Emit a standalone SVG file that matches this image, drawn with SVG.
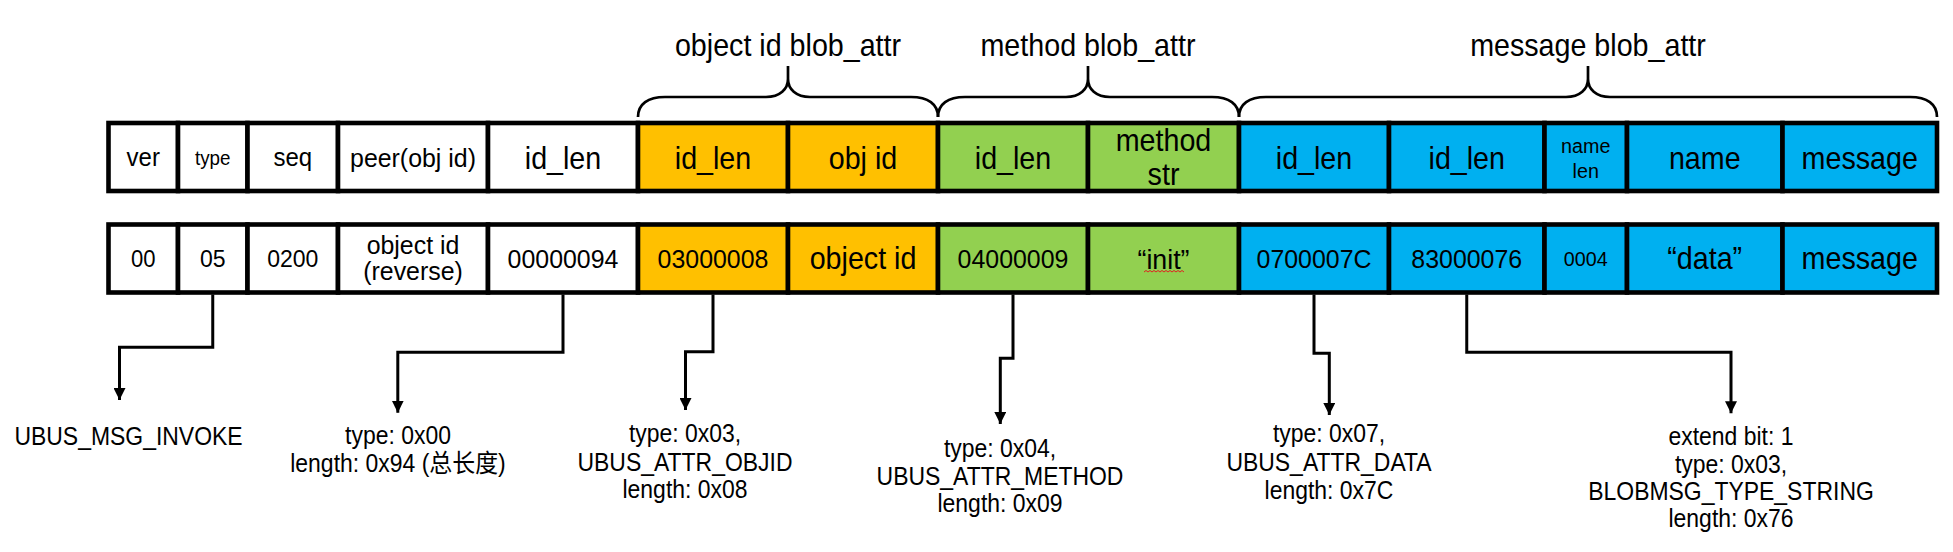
<svg xmlns="http://www.w3.org/2000/svg" width="1953" height="552" viewBox="0 0 1953 552">
<defs>
<style>
text{font-family:"Liberation Sans",Arial,"Noto Sans CJK SC",sans-serif;fill:#000;text-anchor:middle}
.c rect{stroke:#000;stroke-width:4.6}
.w{fill:#fff}.o{fill:#FFC000}.g{fill:#92D050}.b{fill:#00B0F0}
.f29{font-size:30.5px}.f25{font-size:26.5px}.f23{font-size:24.5px}.f20{font-size:21px}
.brace{fill:none;stroke:#000;stroke-width:2.7}
.conn{fill:none;stroke:#000;stroke-width:3;marker-end:url(#ah)}
.lbl{font-size:25.5px}
</style>
<marker id="ah" markerUnits="userSpaceOnUse" markerWidth="12" markerHeight="12" viewBox="0 0 12 12" refX="12" refY="6" orient="auto">
<path d="M0,0 L12,6 L0,12 z" fill="#000"/>
</marker>
</defs>
<rect width="1953" height="552" fill="#fff"/>

<g id="braces">
<path class="brace" d="M638,117 C638,104 648,97 665,97 H766 C780,97 788,89 788,79 V66 M788,79 C788,89 796,97 810,97 H911 C928,97 938,104 938,117"/>
<path class="brace" d="M938,117 C938,104 948,97 965,97 H1066 C1080,97 1088,89 1088,79 V66 M1088,79 C1088,89 1096,97 1110,97 H1212 C1229,97 1239,104 1239,117"/>
<path class="brace" d="M1239,117 C1239,104 1249,97 1266,97 H1566 C1580,97 1588,89 1588,79 V66 M1588,79 C1588,89 1596,97 1610,97 H1910 C1927,97 1937,104 1937,117"/>
<text class="f29" transform="translate(788 56) scale(.94 1)">object id blob_attr</text>
<text class="f29" transform="translate(1088 56) scale(.94 1)">method blob_attr</text>
<text class="f29" transform="translate(1588 56) scale(.94 1)">message blob_attr</text>
</g>

<g id="row1">
<g id="h-ver" class="c"><rect class="w" x="108.5" y="123" width="69.5" height="68"/><text transform="translate(143.25 166) scale(.94 1)" style="font-size:25.5px">ver</text></g>
<g id="h-type" class="c"><rect class="w" x="178" y="123" width="69.5" height="68"/><text transform="translate(212.75 164.5) scale(.94 1)" style="font-size:20px">type</text></g>
<g id="h-seq" class="c"><rect class="w" x="247.5" y="123" width="90.5" height="68"/><text transform="translate(292.75 166) scale(.94 1)" style="font-size:25.5px">seq</text></g>
<g id="h-peer" class="c"><rect class="w" x="338" y="123" width="150" height="68"/><text class="f25" transform="translate(413 167) scale(.94 1)">peer(obj id)</text></g>
<g id="h-idlen0" class="c"><rect class="w" x="488" y="123" width="150" height="68"/><text class="f29" transform="translate(563 169) scale(.94 1)">id_len</text></g>
<g id="h-idlen1" class="c"><rect class="o" x="638" y="123" width="150" height="68"/><text class="f29" transform="translate(713 169) scale(.94 1)">id_len</text></g>
<g id="h-objid" class="c"><rect class="o" x="788" y="123" width="150" height="68"/><text class="f29" transform="translate(863 169) scale(.94 1)">obj id</text></g>
<g id="h-idlen2" class="c"><rect class="g" x="938" y="123" width="150" height="68"/><text class="f29" transform="translate(1013 169) scale(.94 1)">id_len</text></g>
<g id="h-method" class="c"><rect class="g" x="1088" y="123" width="151" height="68"/><text class="f29" transform="translate(1163.5 151) scale(.94 1)">method</text><text class="f29" transform="translate(1163.5 185) scale(.94 1)">str</text></g>
<g id="h-idlen3" class="c"><rect class="b" x="1239" y="123" width="150" height="68"/><text class="f29" transform="translate(1314 169) scale(.94 1)">id_len</text></g>
<g id="h-idlen4" class="c"><rect class="b" x="1389" y="123" width="155.5" height="68"/><text class="f29" transform="translate(1466.75 169) scale(.94 1)">id_len</text></g>
<g id="h-namelen" class="c"><rect class="b" x="1544.5" y="123" width="82.5" height="68"/><text class="f20" transform="translate(1585.75 152.5) scale(.94 1)">name</text><text class="f20" transform="translate(1585.75 177.5) scale(.94 1)">len</text></g>
<g id="h-name" class="c"><rect class="b" x="1627" y="123" width="155.5" height="68"/><text class="f29" transform="translate(1704.75 169) scale(.94 1)">name</text></g>
<g id="h-message" class="c"><rect class="b" x="1782.5" y="123" width="154.5" height="68"/><text class="f29" transform="translate(1859.75 169) scale(.94 1)">message</text></g>
</g>

<g id="row2">
<g id="v-ver" class="c"><rect class="w" x="108.5" y="224.5" width="69.5" height="68"/><text transform="translate(143.25 267) scale(.94 1)" style="font-size:23.5px">00</text></g>
<g id="v-type" class="c"><rect class="w" x="178" y="224.5" width="69.5" height="68"/><text class="f23" transform="translate(212.75 267) scale(.94 1)">05</text></g>
<g id="v-seq" class="c"><rect class="w" x="247.5" y="224.5" width="90.5" height="68"/><text class="f23" transform="translate(292.75 267) scale(.94 1)">0200</text></g>
<g id="v-peer" class="c"><rect class="w" x="338" y="224.5" width="150" height="68"/><text class="f25" transform="translate(413 254) scale(.94 1)">object id</text><text class="f25" transform="translate(413 279.5) scale(.94 1)">(reverse)</text></g>
<g id="v-idlen0" class="c"><rect class="w" x="488" y="224.5" width="150" height="68"/><text class="f25" transform="translate(563 268) scale(.94 1)">00000094</text></g>
<g id="v-idlen1" class="c"><rect class="o" x="638" y="224.5" width="150" height="68"/><text class="f25" transform="translate(713 268) scale(.94 1)">03000008</text></g>
<g id="v-objid" class="c"><rect class="o" x="788" y="224.5" width="150" height="68"/><text class="f29" transform="translate(863 269) scale(.94 1)">object id</text></g>
<g id="v-idlen2" class="c"><rect class="g" x="938" y="224.5" width="150" height="68"/><text class="f25" transform="translate(1013 268) scale(.94 1)">04000009</text></g>
<g id="v-method" class="c"><rect class="g" x="1088" y="224.5" width="151" height="68"/><text transform="translate(1163.5 268.5) scale(.94 1)" style="font-size:28.5px">“init”</text><path d="M1144,272 l2,-1.5 l2,1.5 l2,-1.5 l2,1.5 l2,-1.5 l2,1.5 l2,-1.5 l2,1.5 l2,-1.5 l2,1.5 l2,-1.5 l2,1.5 l2,-1.5 l2,1.5 l2,-1.5 l2,1.5 l2,-1.5 l2,1.5 l2,-1.5 l2,1.5" fill="none" stroke="#e02020" stroke-width="1"/></g>
<g id="v-idlen3" class="c"><rect class="b" x="1239" y="224.5" width="150" height="68"/><text class="f25" transform="translate(1314 268) scale(.94 1)">0700007C</text></g>
<g id="v-idlen4" class="c"><rect class="b" x="1389" y="224.5" width="155.5" height="68"/><text class="f25" transform="translate(1466.75 268) scale(.94 1)">83000076</text></g>
<g id="v-namelen" class="c"><rect class="b" x="1544.5" y="224.5" width="82.5" height="68"/><text class="f20" transform="translate(1585.75 266) scale(.94 1)">0004</text></g>
<g id="v-name" class="c"><rect class="b" x="1627" y="224.5" width="155.5" height="68"/><text class="f29" transform="translate(1704.75 269) scale(.94 1)">“data”</text></g>
<g id="v-message" class="c"><rect class="b" x="1782.5" y="224.5" width="154.5" height="68"/><text class="f29" transform="translate(1859.75 269) scale(.94 1)">message</text></g>
</g>

<g id="connectors">
<path class="conn" d="M212.75,294.5 V347.3 H119.5 V400"/>
<path class="conn" d="M563,294.5 V352.3 H397.8 V412.7"/>
<path class="conn" d="M713,294.5 V351.7 H685.5 V410"/>
<path class="conn" d="M1013,294.5 V358.3 H1000.3 V424"/>
<path class="conn" d="M1314,294.5 V353.3 H1329.3 V415"/>
<path class="conn" d="M1466.75,294.5 V352.3 H1731 V413.3"/>
</g>

<g id="label-invoke"><text class="lbl" transform="translate(128.5 444.5) scale(.9 1)">UBUS_MSG_INVOKE</text></g>
<g id="label-len"><text class="lbl" transform="translate(398 444) scale(.9 1)">type: 0x00</text><text class="lbl" transform="translate(398 472) scale(.9 1)">length: 0x94 (总长度)</text></g>
<g id="label-objid"><text class="lbl" transform="translate(685 442) scale(.9 1)">type: 0x03,</text><text class="lbl" transform="translate(685 470.5) scale(.9 1)">UBUS_ATTR_OBJID</text><text class="lbl" transform="translate(685 498) scale(.9 1)">length: 0x08</text></g>
<g id="label-method"><text class="lbl" transform="translate(1000 457) scale(.9 1)">type: 0x04,</text><text class="lbl" transform="translate(1000 485) scale(.9 1)">UBUS_ATTR_METHOD</text><text class="lbl" transform="translate(1000 512) scale(.9 1)">length: 0x09</text></g>
<g id="label-data"><text class="lbl" transform="translate(1329 442) scale(.9 1)">type: 0x07,</text><text class="lbl" transform="translate(1329 471) scale(.9 1)">UBUS_ATTR_DATA</text><text class="lbl" transform="translate(1329 499) scale(.9 1)">length: 0x7C</text></g>
<g id="label-string"><text class="lbl" transform="translate(1731 445) scale(.9 1)">extend bit: 1</text><text class="lbl" transform="translate(1731 472.5) scale(.9 1)">type: 0x03,</text><text class="lbl" transform="translate(1731 500) scale(.9 1)">BLOBMSG_TYPE_STRING</text><text class="lbl" transform="translate(1731 527) scale(.9 1)">length: 0x76</text></g>
</svg>
